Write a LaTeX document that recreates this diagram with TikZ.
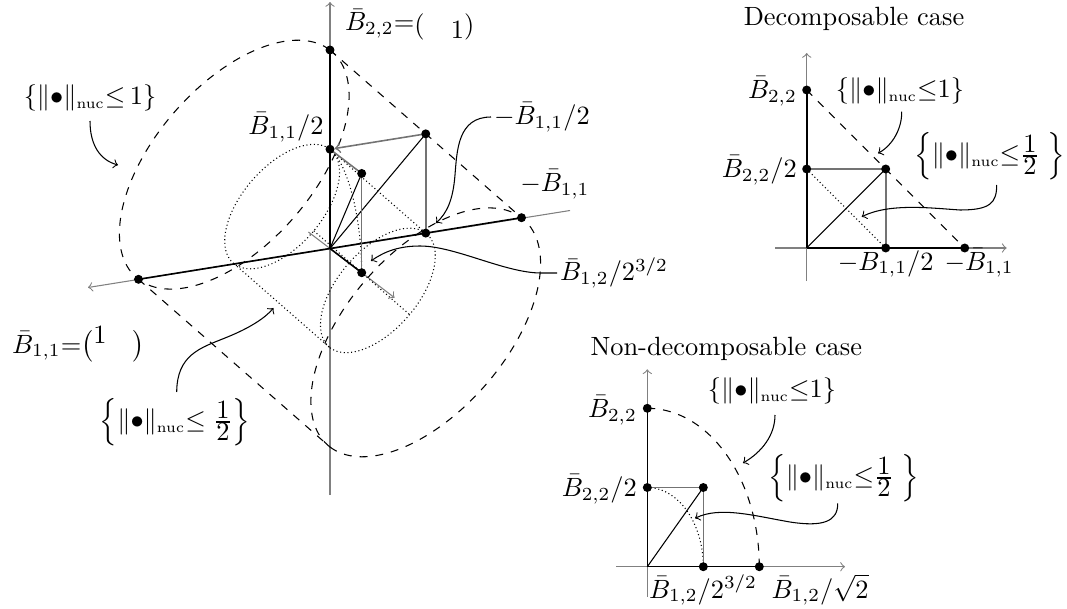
\documentclass[tikz,border=0pt]{standalone}
\usepackage{amsmath}
\usepackage{fontspec}
\newcommand\nuc{\text{\fontsize{5.5}{6}\selectfont nuc}}
\newcommand\halffrac{\genfrac{}{}{}{1}{\textstyle 1}{\textstyle 2}}
\newcommand\nbone{\{\|{\bullet}\|_{\nuc}{\leq}1\}}
\newcommand\nbonesp{\{\|{\bullet}\|_{\nuc}{\leq}\,1\}}
\newcommand\nbhalfbig{\left\{\|{\bullet}\|_{\nuc}{\leq}\;\halffrac\right\}}
\newcommand\nbhalf{\left\{\|{\bullet}\|_{\nuc}{\leq}\halffrac\hspace{3pt}\right\}}
\begin{document}
\begin{tikzpicture}[x=0.379pt,y=-0.379pt,
  dot/.style={circle,fill=black,inner sep=0pt,minimum size=3.4pt},
  axarr/.style={gray,->,line width=0.4pt},
  mainline/.style={black,line width=0.6pt},
  thinline/.style={black,line width=0.4pt},
  grayline/.style={gray!90!black,line width=0.6pt},
  outer/.style={black,dashed,line width=0.4pt},
  inner/.style={black,densely dotted,line width=0.4pt},
  lab/.style={inner sep=1pt},
  note/.style={->,black,line width=0.4pt}]
\useasboundingbox (0,0) rectangle (1067,608);

% ---------------- 3D picture ----------------
\coordinate (O) at (330,248.5);
\coordinate (vtop) at (330,2);
\coordinate (vbot) at (330,495);
\coordinate (hl) at (88,287.5);
\coordinate (hr) at (570,210.5);
\coordinate (bb) at (308.4,232);
\coordinate (bf) at (394.5,297.7);
\coordinate (B22) at (330,50);
\coordinate (B22h) at (330,149.25);
\coordinate (B11) at (138.5,279.3);
\coordinate (B11h) at (234.25,263.9);
\coordinate (mB11) at (521.5,217.7);
\coordinate (mB11h) at (425.75,233.1);
\coordinate (mB22) at (330,447);
\coordinate (mB22h) at (330,347.75);
\coordinate (Q) at (425.75,133.85);
\coordinate (E) at (361.7,272.7);
\coordinate (P) at (361.7,173.45);
\coordinate (ga) at (313.8,230.8);
\coordinate (gb) at (409.6,314.6);

\draw[axarr] (vbot) -- (vtop);
\draw[axarr] (hr) -- (hl);
\draw[axarr] (bb) -- (bf);

% outer ball (dashed)
\draw[outer] plot[variable=\t,domain=0:360,samples=145,smooth]
  ({234.25+95.75*cos(\t)+63.4*sin(\t)},{164.65-114.65*cos(\t)+48.4*sin(\t)});
\draw[outer] plot[variable=\t,domain=0:360,samples=145,smooth]
  ({425.75-95.75*cos(\t)+63.4*sin(\t)},{332.35+114.65*cos(\t)+48.4*sin(\t)});
\draw[outer] (B22) -- (mB11);
\draw[outer] (B11) -- (mB22);

% inner ball (dotted)
\draw[inner] plot[variable=\t,domain=0:360,samples=97,smooth]
  ({282.125+47.875*cos(\t)+31.7*sin(\t)},{206.575-57.325*cos(\t)+24.2*sin(\t)});
\draw[inner] plot[variable=\t,domain=0:360,samples=97,smooth]
  ({377.875-47.875*cos(\t)+31.7*sin(\t)},{290.425+57.325*cos(\t)+24.2*sin(\t)});
\draw[inner] (B22h) -- (mB11h);
\draw[inner] (B11h) -- (mB22h);
\draw[inner] (ga) -- (gb);
\draw[inner] plot[variable=\t,domain=0:90,samples=30,smooth]
  ({330+31.7*sin(\t)},{248.5-99.25*cos(\t)+24.2*sin(\t)});

% solid lines
\draw[mainline] (O) -- (B22);
\draw[mainline] (B11) -- (mB11);
\draw[mainline] (O) -- (E);
\draw[thinline] (O) -- (P);
\draw[thinline] (O) -- (Q);
\draw[grayline,->,shorten >=1.8pt] (Q) -- (B22h);
\draw[grayline] (B22h) -- (P);
\draw[grayline] (P) -- (E);
\draw[grayline] (Q) -- (mB11h);

\foreach \p in {B22,B22h,B11,mB11,mB11h,Q,E,P}
  \node[dot] (d\p) at (\p) {};

% labels
\node[lab,anchor=base west] (lB22) at (342,31) {$\bar B_{2,2}{=}\mathopen{\raisebox{-1pt}{$($}}\quad\lower3pt\hbox{$1$}\mathclose{\raisebox{-1pt}{$)$}}$};
\node[lab] (lB22h) at (286,127) {$\bar B_{1,1}/2$};
\node[lab,anchor=west] (lmB11h) at (491,117) {$-\bar B_{1,1}/2$};
\node[lab] (lmB11) at (555,184) {$-\bar B_{1,1}$};
\node[lab,anchor=west] (lE) at (557,273) {$\bar B_{1,2}/2^{3/2}$};
\node[lab,anchor=base west] (lB11) at (9,353) {$\bar B_{1,1}{=}\bigl(\raise3.5pt\hbox{$1$}\quad\bigr)$};
\node[lab] (n1) at (90,98) {$\nbonesp$};
\node[lab] (n2) at (175,422) {$\nbhalfbig$};

\coordinate (t1) at (118,165);
\coordinate (tA) at (436,223);
\coordinate (tE) at (371,261);
\coordinate (t2) at (273.5,308);
\coordinate (cE) at (541,273);
\coordinate (s1) at (90,121);
\coordinate (s2) at (176.7,392);
\draw[note] (s1) .. controls (90,145) and (100,160) .. (t1);
\draw[note] (lmB11h.west) .. controls (458,117) and (457,150) .. (455,175)
  .. controls (453,200) and (447,213) .. (tA);
\draw[note] (lE.west) -- (cE) .. controls (505,273) and (455,246) .. (420,246)
  .. controls (400,246) and (385,251) .. (tE);
\draw[note] (s2) .. controls (177,355) and (200,348) .. (225,338)
  .. controls (250,328) and (265,318) .. (t2);

% ---------------- Decomposable case ----------------
\coordinate (Od) at (806.7,248);
\coordinate (B22d) at (806.7,90);
\coordinate (B22hd) at (806.7,169);
\coordinate (Cd) at (885.7,169);
\coordinate (mB11hd) at (885.7,248);
\coordinate (mB11d) at (964.7,248);
\coordinate (vdb) at (806.7,281);
\coordinate (vdt) at (806.7,53);
\coordinate (hdl) at (775,248);
\coordinate (hdr) at (1006.7,248);

\node[anchor=base] (tD) at (854,25) {Decomposable case};
\draw[axarr] (vdb) -- (vdt);
\draw[axarr] (hdl) -- (hdr);
\draw[mainline] (Od) -- (B22d);
\draw[mainline] (Od) -- (mB11d);
\draw[outer] (B22d) -- (mB11d);
\draw[grayline] (B22hd) -- (Cd) -- (mB11hd);
\draw[thinline] (Od) -- (Cd);
\draw[inner] (B22hd) -- (mB11hd);
\foreach \p in {B22d,B22hd,Cd,mB11hd,mB11d}
  \node[dot] (d\p) at (\p) {};
\node[lab,anchor=east] (lB22d) at (800,91) {$\bar B_{2,2}$};
\node[lab,anchor=east] (lB22hd) at (800,170) {$\bar B_{2,2}/2$};
\node[lab,inner sep=0pt,anchor=base east] (lmB11hd) at (934,270) {$-\bar B_{1,1}/2$};
\node[lab,inner sep=0pt,anchor=base west] (lmB11d) at (944,270) {$-\bar B_{1,1}$};
\node[lab] (n3) at (900,91) {$\nbone$};
\node[lab,anchor=west] (n4) at (911,156) {$\nbhalf$};
\coordinate (t3) at (878,153.3);
\coordinate (t4) at (861.7,216.7);
\coordinate (s3) at (901.7,111.7);
\coordinate (s4) at (996.7,185);
\draw[note] (s3) .. controls (902,128) and (893,145) .. (t3);
\draw[note] (s4) .. controls (996.7,203) and (990,210) .. (960,210)
  .. controls (930,208) and (890,203) .. (t4);

% ---------------- Non-decomposable case ----------------
\coordinate (On) at (647.3,566.7);
\coordinate (B22n) at (647.3,408.3);
\coordinate (B22hn) at (647.3,487.5);
\coordinate (Cn) at (703.3,487.5);
\coordinate (En) at (703.3,566.7);
\coordinate (Bsn) at (759.3,566.7);
\coordinate (vnb) at (647.3,596.7);
\coordinate (vnt) at (647.3,369.3);
\coordinate (hnl) at (616,566.7);
\coordinate (hnr) at (845,566.7);

\node[anchor=base] (tN) at (726.3,355) {Non-decomposable case};
\draw[axarr] (vnb) -- (vnt);
\draw[axarr] (hnl) -- (hnr);
\draw[outer] plot[variable=\t,domain=0:90,samples=40,smooth]
  ({647.3+112*sin(\t)},{566.7-158.4*cos(\t)});
\draw[inner] plot[variable=\t,domain=0:90,samples=30,smooth]
  ({647.3+56*sin(\t)},{566.7-79.2*cos(\t)});
\draw[mainline] (On) -- (B22n);
\draw[mainline] (On) -- (Bsn);
\draw[grayline] (B22hn) -- (Cn) -- (En);
\draw[thinline] (On) -- (Cn);
\foreach \p in {B22n,B22hn,Cn,En,Bsn}
  \node[dot] (d\p) at (\p) {};
\node[lab,anchor=east] (lB22n) at (640,410) {$\bar B_{2,2}$};
\node[lab,anchor=east] (lB22hn) at (640,489) {$\bar B_{2,2}/2$};
\node[lab,inner sep=0pt,anchor=base] (lEn) at (703,598) {$\bar B_{1,2}/2^{3/2}$};
\node[lab,inner sep=0pt,anchor=base west] (lBsn) at (771,598) {$\bar B_{1,2}/\sqrt{2}$};
\node[lab] (n5) at (772,391) {$\nbone$};
\node[lab,anchor=west] (n6) at (765,478) {$\nbhalf$};
\coordinate (t5) at (743,463);
\coordinate (t6) at (695,518.3);
\coordinate (s5) at (775,415);
\coordinate (s6) at (837.7,503.3);
\draw[note] (s5) .. controls (775,435) and (762,452) .. (t5);
\draw[note] (s6) .. controls (838,522) and (822,527) .. (790,522)
  .. controls (755,516) and (720,506) .. (t6);
\end{tikzpicture}
\end{document}
